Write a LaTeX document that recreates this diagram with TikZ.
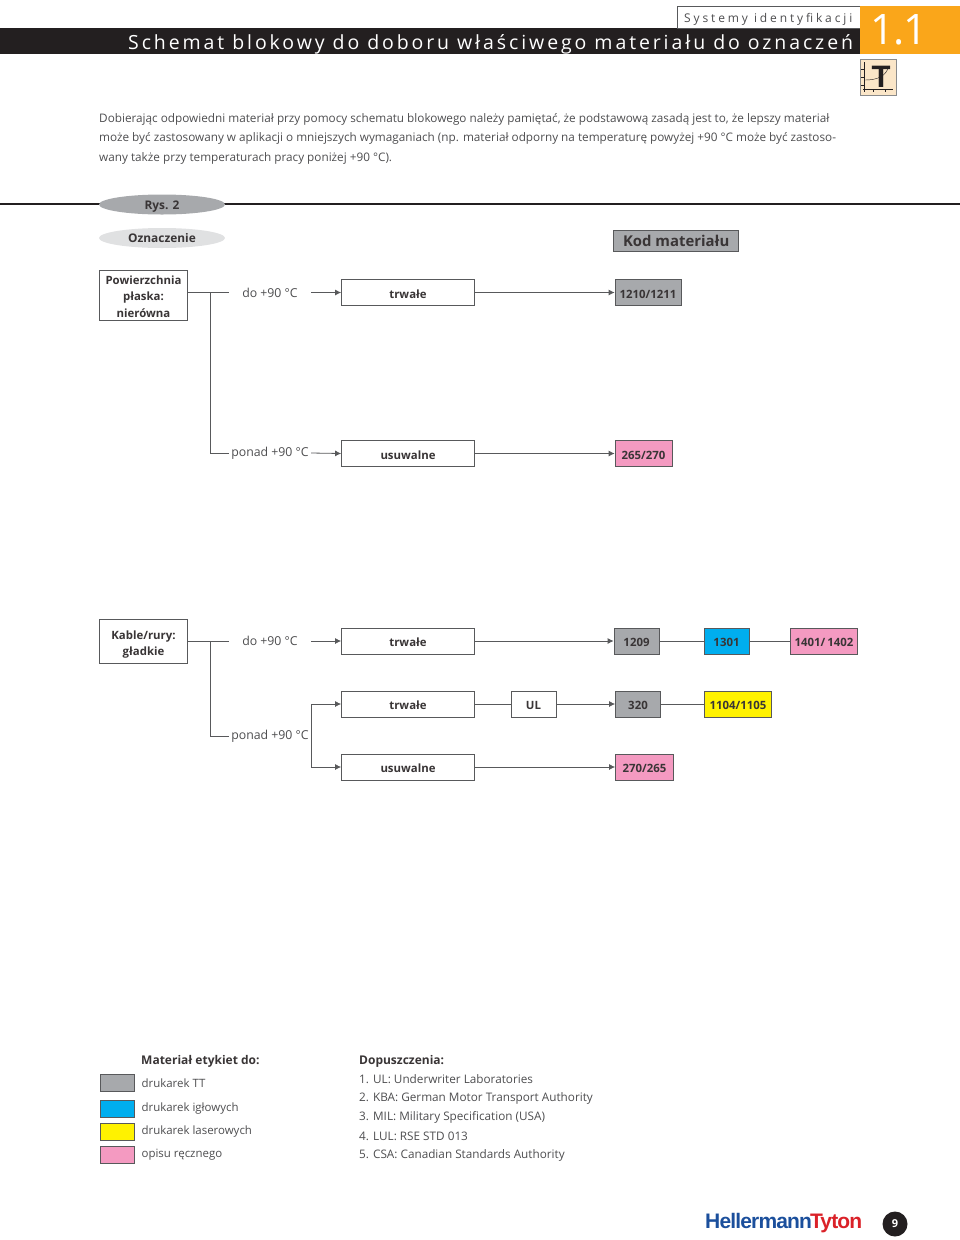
\documentclass[tikz,border=0pt]{standalone}
\usepackage{fontspec}
\setmainfont{Open Sans}
\setsansfont{Open Sans}
\newfontfamily\logofont{Liberation Sans}
\usepackage{xcolor}
\usetikzlibrary{positioning,arrows.meta,calc,shapes.geometric}
\definecolor{hgray}{HTML}{A7A9AC}
\definecolor{hblue}{HTML}{00AEEF}
\definecolor{hyellow}{HTML}{FFF200}
\definecolor{hpink}{HTML}{F49AC1}
\definecolor{horange}{HTML}{FAA61A}
\definecolor{hblack}{HTML}{231F20}
\definecolor{htan}{HTML}{FBE6C8}
\definecolor{hline}{HTML}{58595B}
\definecolor{htext}{HTML}{4D4D4F}
\definecolor{hlogob}{HTML}{1B4F9C}
\definecolor{hlogor}{HTML}{DA2128}
\newcommand{\fsz}[1]{\fontsize{#1}{#1}\selectfont}
\begin{document}
\begin{tikzpicture}[x=1pt,y=-1pt,font=\sffamily,
  para/.style={anchor=west,inner sep=0pt,text=htext,font=\sffamily\fsz{11.75}},
  stepbox/.style={rectangle,draw=hline,line width=0.8pt,fill=white,align=center,inner sep=0pt,font=\sffamily\bfseries\fsz{11.4},text=hblack!90},
  widebox/.style={stepbox,minimum width=133pt,minimum height=26pt,text height=11pt,text depth=0pt},
  code/.style={stepbox,minimum height=26pt,text height=11pt,text depth=0pt},
  temp/.style={inner sep=0pt,minimum width=82pt,minimum height=14pt,text=htext,font=\sffamily\fsz{12.3}},
  oval/.style={ellipse,minimum width=126pt,minimum height=20pt,inner sep=0pt,text height=9pt,text depth=0pt,font=\sffamily\bfseries\fsz{11.9},text=hblack!90},
  swatch/.style={rectangle,draw=hline,line width=0.8pt,minimum width=34pt,minimum height=17pt,inner sep=0pt},
  link/.style={line width=0.8pt,hline},
  flow/.style={link,-{Latex[length=6pt,width=6pt]}}]
  \useasboundingbox (0,0) rectangle (960,1240);
  % page head
  \node[minimum width=860pt,minimum height=26pt,inner sep=0pt,fill=hblack,anchor=north west] (bar) at (0,28) {};
  \node[minimum width=183pt,minimum height=22pt,inner sep=0pt,draw=hline,fill=white,line width=0.8pt,anchor=north west] (tab) at (677,6) {};
  \node[minimum width=100pt,minimum height=48pt,inner sep=0pt,fill=horange,anchor=north west] (sec) at (860,6) {};
  \node[anchor=west,inner sep=0pt,text=white,font=\sffamily\fsz{19.5}] (title) at (128,44) {\addfontfeature{LetterSpace=14.9}Schemat blokowy do doboru właściwego materiału do oznaczeń};
  \node[anchor=west,inner sep=0pt,text=htext,font=\sffamily\fsz{12}] (sys) at (684,19) {\addfontfeature{LetterSpace=24}Systemy identyfikacji};
  \node[inner sep=0pt,text=white,font=\sffamily\fsz{42}] (num) at (899,30) {\addfontfeature{LetterSpace=-3}1.1};
  % icon
  \node[minimum width=36pt,minimum height=36pt,inner sep=0pt,draw=hline!70,fill=htan,line width=0.6pt,anchor=north west] (ico) at (860,59) {};
  \draw[hblack,line width=0.4pt] (863,89) -- (893,89) (864,62) -- (864,92) (864,69) -- (861,69) (864,77) -- (861,77) (864,85) -- (861,85) (873,89) -- (873,92) (885,89) -- (885,92);
  \draw[hblack,line width=0.4pt] (865,80) .. controls (878,80) and (886,76) .. (889,66);
  \node[inner sep=0pt,text=hblack,font=\logofont\bfseries\fsz{31}] (icot) at (881,77) {T};
  % intro
  \node[para] (p1) at (99,119) {Dobierając odpowiedni materiał przy pomocy schematu blokowego należy pamiętać, że podstawową zasadą jest to, że lepszy materiał};
  \node[para] (p2) at (99,138.5) {może być zastosowany w aplikacji o mniejszych wymaganiach (np. materiał odporny na temperaturę powyżej +90 °C może być zastoso-};
  \node[para] (p3) at (99,158) {wany także przy temperaturach pracy poniżej +90 °C).};
  % heads
  \coordinate (rl) at (0,204);
  \coordinate (rr) at (960,204);
  \draw[hblack,line width=1.2pt] (rl) -- (rr);
  \node[oval,fill=hgray] (rys) at (162,204.5) {Rys. 2};
  \node[oval,fill=hgray!35] (ozn) at (162,238) {Oznaczenie};
  \node[stepbox,fill=hgray,minimum width=125pt,minimum height=21pt,font=\sffamily\bfseries\fsz{14.9}] (kod) at (676.2,240.5) {Kod materiału};
  % first block
  \node[stepbox,minimum width=88pt,minimum height=50pt,text width=86pt] (plaska) at (143.5,295) {\rule{0pt}{12pt}Powierzchnia\\[4.6pt]płaska:\\[4.6pt]nierówna};
  \node[temp] (t1) at (270,292.5) {do +90 °C};
  \node[temp] (t2) at (270,453) {ponad +90 °C};
  \node[widebox] (a1) at (408,292.5) {trwałe};
  \node[widebox] (a2) at (408,453.5) {usuwalne};
  \node[code,fill=hgray,minimum width=66pt] (c1) at (648,292.5) {1210/1211};
  \node[code,fill=hpink,minimum width=57pt] (c2) at (643.5,453.5) {265/270};
  \coordinate (j1) at (210,292.5);
  \draw[link] (plaska.east |- t1) -- (t1.west);
  \draw[flow] (t1.east) -- (a1.west);
  \draw[flow] (a1.east) -- (c1.west);
  \draw[link] (j1) |- (t2.west);
  \draw[flow] (t2.east) -- (a2.west);
  \draw[flow] (a2.east) -- (c2.west);
  % second block
  \node[stepbox,minimum width=88pt,minimum height=44pt,text width=86pt] (kable) at (143.5,641) {\rule{0pt}{15pt}Kable/rury:\\[4.6pt]gładkie};
  \node[temp] (t3) at (270,641) {do +90 °C};
  \node[temp] (t4) at (270,736) {ponad +90 °C};
  \node[widebox] (b1) at (408,641) {trwałe};
  \node[widebox] (b2) at (408,704) {trwałe};
  \node[widebox] (b3) at (408,767) {usuwalne};
  \node[code,minimum width=45pt] (ul) at (533.5,704) {UL};
  \node[code,fill=hgray,minimum width=45pt] (d1) at (636.5,641) {1209};
  \node[code,fill=hblue,minimum width=45pt] (d2) at (726.5,641) {1301};
  \node[code,fill=hpink,minimum width=67pt] (d3) at (824,641) {1401/\,1402};
  \node[code,fill=hgray,minimum width=45pt] (e1) at (638,704) {320};
  \node[code,fill=hyellow,minimum width=67pt] (e2) at (738,704) {1104/1105};
  \node[code,fill=hpink,minimum width=58pt] (f1) at (644.5,767) {270/265};
  \coordinate (j2) at (210,641);
  \draw[link] (kable.east |- t3) -- (t3.west);
  \draw[flow] (t3.east) -- (b1.west);
  \draw[flow] (b1.east) -- (d1.west);
  \draw[link] (d1) -- (d2);
  \draw[link] (d2) -- (d3);
  \draw[link] (j2) |- (t4.west);
  \draw[flow] (t4.east) |- (b2.west);
  \draw[flow] (t4.east) |- (b3.west);
  \draw[link] (b2) -- (ul);
  \draw[flow] (ul.east) -- (e1.west);
  \draw[link] (e1) -- (e2);
  \draw[flow] (b3.east) -- (f1.west);
  % legend
  \node[anchor=west,inner sep=0pt,text=hblack!90,font=\sffamily\bfseries\fsz{12}] (lg) at (141,1061.5) {Materiał etykiet do:};
  \foreach \y/\c/\t/\n in {1083/hgray/drukarek TT/s1,1108.5/hblue/drukarek igłowych/s2,1132/hyellow/drukarek laserowych/s3,1154.5/hpink/opisu ręcznego/s4}{
    \node[swatch,fill=\c] (\n) at (117.5,\y) {};
    \node[para,right=6.5pt of \n,font=\sffamily\fsz{11.45}] (\n t) {\t};
  }
  \node[anchor=west,inner sep=0pt,text=hblack!90,font=\sffamily\bfseries\fsz{12}] (dop) at (359,1061.5) {Dopuszczenia:};
  \node[para] (d1t) at (359,1079) {1. UL: Underwriter Laboratories};
  \node[para] (d2t) at (359,1098) {2. KBA: German Motor Transport Authority};
  \node[para] (d3t) at (359,1117) {3. MIL: Military Specification (USA)};
  \node[para] (d4t) at (359,1136) {4. LUL: RSE STD 013};
  \node[para] (d5t) at (359,1155) {5. CSA: Canadian Standards Authority};
  % foot
  \node[anchor=west,inner sep=0pt,font=\logofont\bfseries\fsz{21}] (logo) at (705,1223) {\addfontfeature{LetterSpace=-4}\textcolor{hlogob}{Hellermann}\kern-2pt\textcolor{hlogor}{Tyton}};
  \node[circle,fill=hblack,minimum size=25pt,inner sep=0pt,text=white,font=\sffamily\bfseries\fsz{11}] (page) at (895,1224) {9};
\end{tikzpicture}
\end{document}
